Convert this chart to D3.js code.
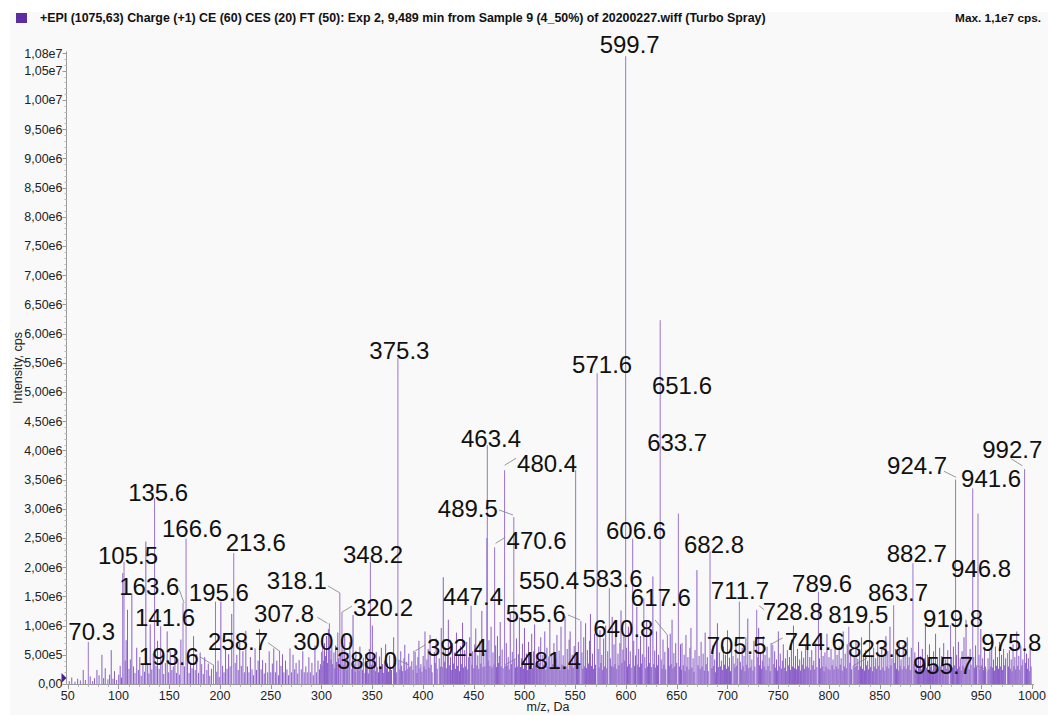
<!DOCTYPE html>
<html>
<head>
<meta charset="utf-8">
<script src="https://cdn.jsdelivr.net/npm/d3@7"></script>
<style>
  body { margin: 0; background: #ffffff; }
  svg { display: block; }
  text { font-family: "Liberation Sans", Arial, Helvetica, sans-serif; }
</style>
</head>
<body>
<svg id="chart" width="1048" height="715"></svg>
<script>
// ---- Spectrum header ----
const titleText = "+EPI (1075,63) Charge (+1) CE (60) CES (20) FT (50): Exp 2, 9,489 min from Sample 9 (4_50%) of 20200227.wiff (Turbo Spray)";
const maxText = "Max. 1,1e7 cps.";
const xAxisTitle = "m/z, Da";
const yAxisTitle = "Intensity, cps";

// ---- Axis ticks ----
const xTickValues = [50, 100, 150, 200, 250, 300, 350, 400, 450, 500, 550, 600, 650, 700, 750, 800, 850, 900, 950, 1000];
const yTickValues = [0, 5e5, 1e6, 1.5e6, 2e6, 2.5e6, 3e6, 3.5e6, 4e6, 4.5e6, 5e6, 5.5e6, 6e6, 6.5e6, 7e6, 7.5e6, 8e6, 8.5e6, 9e6, 9.5e6, 1e7, 1.05e7, 1.08e7];
const yTickLabels = ["0,00", "5,00e5", "1,00e6", "1,50e6", "2,00e6", "2,50e6", "3,00e6", "3,50e6", "4,00e6", "4,50e6", "5,00e6", "5,50e6", "6,00e6", "6,50e6", "7,00e6", "7,50e6", "8,00e6", "8,50e6", "9,00e6", "9,50e6", "1,00e7", "1,05e7", "1,08e7"];

// ---- Labelled peaks: m/z and intensity (cps) ----
const labelledMz = [599.7, 375.3, 571.6, 651.6, 633.7, 463.4, 480.4, 489.5, 470.6, 550.4,
  583.6, 606.6, 617.6, 640.8, 682.8, 711.7, 705.5, 728.8, 744.6, 789.6,
  819.5, 823.8, 863.7, 882.7, 919.8, 924.7, 941.6, 946.8, 955.7, 975.8,
  992.7, 555.6, 481.4, 447.4, 392.4, 388.0, 348.2, 320.2, 318.1, 307.8,
  300.0, 258.7, 213.6, 195.6, 193.6, 166.6, 163.6, 141.6, 135.6, 105.5, 70.3];
const labelledIntensity = [1.075e7, 5.58e6, 5.32e6, 2.92e6, 6.23e6, 4.09e6, 3.66e6, 2.86e6, 2.34e6, 3.66e6,
  1.64e6, 2.49e6, 1.47e6, 8.4e5, 2.27e6, 1.41e6, 4.8e5, 1.27e6, 6.7e5, 1.58e6,
  9.8e5, 3.1e5, 1.35e6, 2.07e6, 1.01e6, 3.50e6, 3.35e6, 2.92e6, 2.2e5, 5.3e5,
  3.68e6, 1.08e6, 3.1e5, 1.34e6, 5.5e5, 3.1e5, 2.09e6, 1.23e6, 1.56e6, 1.04e6,
  5.5e5, 5.7e5, 2.24e6, 1.41e6, 3.3e5, 2.49e6, 1.39e6, 9.9e5, 3.18e6, 2.09e6, 7.2e5];

// ---- Remaining peaks, [m/z, intensity in units of 1e5 cps] ----
const peaksLow = [[51.5,0.5],[54,1.1],[57.2,0.4],[59.8,0.9],[62.5,0.6],[65.3,2.4],[67.4,0.7],[72.2,1.3],[74.6,0.5],[76.4,1.0],[78.8,2.4],[80.9,1.5],[83.7,5.0],[85.4,1.0],[87.0,2.7],[89.6,0.8],[91.3,1.6],[92.9,5.8],[94.6,0.9],[96.1,2.2],[98.2,0.7],[100.3,1.6],[101.7,3.1],[103.0,1.1],[104.3,19.0],[106.6,4.0],[107.6,7.5],[108.9,12.7],[110.4,2.6],[111.7,4.2],[113.2,15.5],[114.8,3.0],[116.3,1.9],[118.0,6.2],[119.6,2.4],[121.0,4.6],[122.4,1.4],[124.1,3.3],[125.6,2.1],[127.0,24.4],[128.8,3.6],[130.0,1.8],[131.3,10.2],[132.8,2.5],[134.3,5.2],[137.0,3.1],[138.5,7.4],[140.1,2.6],[143.1,4.1],[144.6,1.7],[146.2,3.6],[148.0,9.0],[149.5,2.0],[151.0,5.6],[152.6,2.4],[154.0,3.0],[155.6,6.1],[157.1,1.9],[158.6,4.3],[160.0,1.6],[161.5,7.6],[165.0,3.0],[168.1,4.1],[169.6,1.9],[171.0,3.6],[172.5,2.7],[174.0,8.2],[175.6,2.4],[177.1,5.1],[178.9,1.9],[180.5,5.4],[182.0,3.4],[183.6,1.7],[185.0,4.6],[187.1,2.4],[188.5,3.5],[190.0,1.4],[191.6,2.6],[196.9,2.1],[198.1,4.0],[199.3,1.2],[200.9,14.1],[202.6,3.1],[204.0,2.0],[205.5,6.2],[207.0,2.6],[208.5,5.1],[210.0,3.0],[211.6,12.0],[215.0,3.6],[216.6,5.0],[218.0,2.4],[219.5,7.1],[221.0,3.1],[222.6,5.6],[224.0,2.0],[225.5,9.1],[227.1,3.0],[228.6,2.0],[230.0,4.6],[231.6,2.5],[233.0,1.5],[234.6,6.1],[236.0,2.4],[237.6,4.0],[239.0,9.4],[240.6,2.5],[242.0,4.1],[243.6,1.8],[245.0,3.6],[247.0,2.0],[248.5,5.6],[250.1,2.0],[251.6,3.5],[253.0,6.1],[254.6,2.0],[256.0,4.0],[257.6,1.5],[260.1,3.1],[261.6,5.1],[263.0,2.0],[264.6,4.0],[266.0,2.5],[267.6,1.5],[269.0,6.1],[270.6,2.0],[272.0,5.0],[273.6,2.5],[275.0,3.6],[276.6,1.8],[278.0,4.1],[280.1,2.5],[281.6,5.6],[283.0,2.0],[284.6,3.0],[286.0,2.0],[287.6,4.6],[289.0,2.0],[290.6,3.6],[292.0,1.5],[293.6,6.6],[295.0,2.0],[296.6,4.0],[298.1,2.5],[299.2,3.4]];

const peaksMid = [[300.5,3.0],[301.3,6.2],[302.2,4.0],[303.0,7.0],[303.9,4.8],[305.0,8.2],[305.9,3.6],[306.8,9.4],[308.5,5.8],[309.4,4.2],[310.2,7.6],[311.1,3.4],[312.3,5.4],[313.2,2.7],[314.0,6.6],[314.9,3.8],[316.1,8.8],[316.9,4.4],[319.0,5.0],[321.2,5.9],[322.0,3.2],[322.9,8.6],[324.1,3.9],[325.0,2.5],[325.9,5.3],[327.1,3.0],[328.0,7.2],[329.9,2.6],[330.5,4.6],[331.1,11.8],[332.2,3.5],[333.1,2.1],[333.9,5.7],[335.2,2.9],[336.1,4.1],[337.0,2.3],[337.9,6.4],[339.0,3.1],[340.4,2.4],[341.2,4.5],[342.8,1.9],[343.4,5.1],[344.3,2.8],[345.1,3.6],[346.2,1.8],[347.1,6.0],[349.2,3.3],[350.1,10.0],[351.0,2.5],[352.0,4.3],[353.1,2.2],[354.0,5.5],[355.0,2.9],[356.2,2.0],[357.1,4.7],[358.0,2.6],[359.0,6.2],[360.1,3.4],[361.0,1.9],[362.0,4.0],[363.2,6.8],[364.1,2.7],[365.0,3.5],[366.0,2.1],[367.1,4.9],[368.0,3.0],[369.0,2.4],[371.1,8.0],[372.0,2.8],[373.0,3.6],[374.1,2.0],[376.3,3.9],[377.2,2.5],[378.1,5.6],[379.0,3.1],[380.0,2.2],[381.2,4.4],[382.1,6.7],[383.0,2.3],[384.0,3.8],[385.1,2.6],[386.0,5.2],[387.0,2.9],[389.0,3.9],[390.2,2.4],[391.1,5.7],[393.2,3.2],[394.1,1.9],[395.0,4.6],[396.0,7.4],[397.1,2.7],[398.0,3.4],[399.0,2.1],[400.2,4.8],[401.1,3.0],[402.0,9.0],[403.0,2.5],[403.9,4.2],[405.1,6.0],[406.0,2.8],[407.0,8.4],[408.1,3.3],[409.0,2.0],[411.2,5.5],[412.1,3.6],[413.0,7.8],[414.0,2.6],[416.0,4.4],[417.1,3.0],[418.0,9.6],[419.0,2.9],[420.0,18.3],[421.1,3.8],[422.0,6.2],[423.0,2.7],[424.1,5.0],[425.0,11.0],[426.0,3.2],[427.1,4.6],[428.0,2.4],[429.1,7.0],[430.0,3.5],[431.0,5.4],[432.1,2.6],[433.0,8.8],[434.0,3.1],[435.1,4.9],[436.0,2.2],[437.0,6.5],[438.1,3.4],[439.0,10.5],[440.0,2.8],[441.1,5.8],[442.0,3.0],[443.0,7.2],[444.1,2.5],[445.0,4.6],[446.0,8.0],[448.2,3.3],[449.0,5.6],[450.1,2.7],[451.0,6.8],[452.0,9.5],[453.1,3.2],[454.0,4.9],[455.0,2.6],[456.1,7.4],[457.0,3.5],[458.0,12.5],[459.1,2.9],[460.0,5.2],[461.0,3.0],[462.1,6.0],[463.0,25.0],[464.1,4.0],[465.0,7.5],[466.0,3.1],[467.1,9.8],[468.0,2.8],[469.0,5.4],[470.0,3.3],[471.6,6.6],[472.5,2.9],[473.4,8.2],[474.3,3.6],[475.2,4.8],[476.1,10.6],[477.0,3.0],[478.0,5.9],[479.0,2.7],[482.1,7.0],[483.0,3.2],[484.0,4.6],[485.0,2.5],[486.0,12.0],[487.1,3.4],[488.0,5.5],[490.4,4.2],[491.2,2.8],[492.1,7.8],[493.0,3.0],[494.0,5.1],[495.0,11.4],[496.1,2.9],[497.0,4.4],[498.0,6.9],[499.1,2.6],[500.0,9.6],[501.0,3.5],[502.0,5.2],[503.1,2.4],[504.0,7.2],[505.0,3.1],[506.0,4.8],[507.1,8.6],[508.0,2.7],[509.0,5.6],[510.0,10.2],[511.1,3.2],[512.0,4.5],[513.0,2.6],[514.1,6.4],[515.0,3.6],[516.0,8.0],[517.0,2.9],[518.1,5.0],[519.0,3.3],[520.0,9.0],[521.0,2.5],[522.1,6.2],[523.0,3.0],[524.0,4.7],[525.0,10.8],[526.1,2.8],[527.0,5.3],[528.0,3.4],[529.0,7.0],[530.1,2.6],[531.0,4.4],[532.0,8.4],[533.0,3.1],[534.1,5.7],[535.0,2.4],[536.0,9.8],[537.0,3.3],[538.1,4.9],[539.0,2.7],[540.0,11.6],[541.0,3.0],[542.1,6.0],[543.0,2.5],[544.0,7.6],[545.0,9.0],[546.1,3.2],[547.0,5.0],[548.0,2.8],[549.0,6.5],[551.3,4.1],[552.2,2.9],[553.1,7.2],[554.0,3.4],[556.6,5.4],[557.5,2.6],[558.4,8.0],[559.3,3.0],[560.2,10.4],[561.1,2.7],[562.0,5.8],[563.0,3.5],[564.1,7.4],[565.0,12.0],[566.0,3.1],[567.0,5.2],[568.1,2.6],[569.0,8.6],[570.0,3.3],[572.6,6.0],[573.5,2.8],[574.4,9.2],[575.3,3.6],[576.2,5.0],[577.1,2.4],[578.0,7.8],[579.0,3.0],[580.0,10.0],[581.1,2.7],[582.0,5.6],[584.6,4.4],[585.5,3.1],[586.4,11.5],[587.3,2.9],[588.2,6.8],[589.1,3.4],[590.0,9.4],[591.0,2.6],[592.1,5.2],[593.0,3.2],[594.0,7.0],[595.1,12.6],[596.0,3.6],[597.0,5.9],[598.0,8.4],[598.8,4.0],[600.6,6.2],[601.5,3.0],[602.4,9.8],[603.3,3.4],[604.2,5.6],[605.1,2.8],[607.6,7.4],[608.5,3.1],[609.4,4.9],[610.7,13.2],[611.6,3.3],[612.5,6.0],[613.4,2.9],[614.3,8.2],[615.2,3.5],[616.1,5.1],[618.6,4.6],[619.5,2.7],[620.4,10.8],[621.3,3.0],[622.2,6.4],[623.1,3.6],[624.0,8.8],[625.0,2.9],[626.5,18.4],[627.4,3.4],[628.3,5.7],[629.2,2.8],[630.1,9.0],[631.0,3.2],[632.0,5.0],[634.7,4.2],[635.6,2.6],[636.5,7.6],[637.4,3.3],[638.3,5.5],[639.2,2.5],[641.8,6.2],[642.7,3.1],[643.6,8.6],[644.5,3.4],[645.4,11.0],[646.3,2.7],[647.2,5.3],[648.1,3.0],[649.0,7.0],[650.0,3.6]];

const peaksHigh = [[652.8,3.0],[653.7,6.8],[654.6,2.4],[655.2,7.0],[656.4,3.2],[657.3,5.0],[658.2,2.2],[659.1,8.4],[660.0,3.0],[661.0,4.6],[662.1,2.5],[663.0,6.2],[664.0,9.6],[665.0,2.8],[666.1,4.4],[667.0,2.1],[668.0,5.8],[669.9,19.5],[671.0,3.2],[672.0,4.8],[673.1,2.6],[674.0,7.2],[675.0,3.0],[676.0,5.2],[677.1,2.3],[678.0,8.8],[679.0,3.4],[680.1,4.6],[681.0,2.2],[683.8,5.0],[684.7,2.7],[685.6,6.6],[686.5,3.1],[687.4,4.2],[688.3,2.0],[689.2,7.8],[690.1,10.4],[691.0,2.9],[692.0,5.4],[693.1,3.0],[694.0,4.0],[695.0,2.4],[696.0,6.4],[697.1,3.3],[698.0,5.0],[699.0,2.6],[700.0,9.2],[701.1,3.0],[702.0,4.5],[703.0,2.2],[704.1,6.0],[706.5,3.5],[707.4,2.8],[708.3,7.0],[709.2,3.1],[710.1,4.4],[712.7,3.8],[713.6,2.5],[714.5,6.2],[715.4,3.0],[716.3,4.8],[717.2,2.2],[718.1,8.0],[719.0,3.3],[720.0,11.2],[721.0,2.7],[722.1,5.0],[723.0,2.9],[724.0,4.2],[725.1,2.3],[726.0,7.4],[727.0,3.0],[729.8,4.6],[730.7,9.6],[731.6,3.2],[732.5,5.4],[733.4,2.6],[734.3,4.0],[735.2,8.2],[736.1,3.0],[737.0,5.0],[738.0,2.4],[739.0,6.4],[740.0,3.1],[741.1,4.5],[742.0,2.2],[743.0,7.0],[745.6,3.4],[746.5,5.6],[747.4,2.8],[748.3,4.2],[749.2,2.3],[750.1,9.0],[751.0,3.0],[752.0,5.2],[753.1,2.6],[754.0,4.0],[755.0,6.8],[756.0,2.8],[757.1,4.4],[758.0,2.2],[759.0,5.8],[760.0,3.2],[761.1,4.6],[762.0,2.4],[763.0,7.6],[764.1,3.0],[765.0,10.0],[766.0,2.7],[767.0,4.8],[768.1,2.5],[769.0,6.0],[770.0,3.1],[771.1,4.2],[772.0,2.3],[773.0,5.6],[774.1,3.3],[775.0,4.5],[776.0,2.6],[777.0,6.6],[778.1,3.0],[779.0,8.4],[780.0,2.8],[781.1,4.6],[782.0,2.4],[783.0,5.8],[784.1,3.2],[785.0,4.0],[786.0,2.5],[787.0,7.0],[788.1,2.9],[790.6,4.4],[791.5,2.7],[792.4,6.2],[793.3,3.0],[794.2,4.8],[795.1,2.2],[796.0,5.4],[797.0,3.0],[798.0,8.6],[799.1,2.6],[800.0,4.6],[801.0,2.4],[802.0,6.0],[803.1,3.2],[804.0,4.2],[805.0,2.5],[806.0,7.6],[807.1,3.0],[808.0,5.0],[809.0,2.6],[810.0,6.4],[811.1,3.3],[812.0,4.4],[813.0,2.3],[814.0,9.0],[815.1,3.0],[816.0,5.2],[817.0,2.7],[818.0,6.8],[820.5,3.6],[821.4,5.4],[822.3,2.5],[824.8,4.8],[825.7,2.9],[826.6,7.2],[827.5,3.1],[828.4,4.3],[829.3,2.4],[830.2,6.0],[831.1,3.0],[832.0,8.0],[833.0,2.6],[834.1,4.6],[835.0,2.3],[836.0,5.8],[837.0,3.2],[838.1,4.0],[839.0,2.5],[840.0,10.6],[841.0,2.9],[842.1,4.8],[843.0,2.2],[844.0,6.2],[845.1,3.0],[846.0,4.4],[847.0,2.6],[848.0,7.0],[849.1,3.1],[850.0,5.0],[851.0,2.4],[852.0,6.4],[853.1,2.8],[854.0,4.6],[855.0,2.3],[856.1,8.2],[857.0,3.0],[858.0,5.6],[859.0,2.7],[860.1,9.8],[861.0,3.2],[862.0,4.4],[864.7,3.6],[865.6,6.0],[866.5,2.6],[867.4,4.8],[868.3,2.3],[869.2,7.4],[870.1,3.1],[871.0,4.2],[872.0,2.5],[873.1,6.6],[874.0,3.0],[875.0,5.2],[876.0,2.6],[877.1,8.0],[878.0,3.2],[879.0,4.6],[880.0,2.4],[881.1,6.2],[883.7,3.4],[884.6,5.4],[885.5,2.6],[886.4,4.0],[887.3,2.2],[888.2,7.2],[889.1,3.0],[890.0,4.8],[891.0,2.5],[892.0,6.0],[893.1,3.3],[894.0,4.4],[895.0,10.2],[896.0,2.8],[897.1,5.0],[898.0,2.4],[899.0,6.8],[900.0,3.0],[901.1,4.5],[902.0,2.3],[903.0,5.6],[904.1,3.2],[905.0,8.6],[906.0,2.7],[907.0,4.4],[908.1,2.5],[909.0,6.2],[910.0,3.0],[911.1,4.8],[912.0,2.4],[913.0,7.0],[914.1,3.1],[915.0,4.2],[916.0,2.6],[917.0,5.8],[918.1,3.0],[920.8,4.6],[921.7,2.8],[922.6,6.4],[923.5,3.2],[925.7,5.0],[926.6,2.6],[927.5,7.2],[928.4,3.0],[929.3,4.4],[930.2,2.3],[931.1,5.6],[932.0,3.1],[933.0,8.0],[934.1,2.7],[935.0,11.0],[936.0,3.0],[937.0,4.8],[938.1,2.5],[939.0,6.0],[940.0,3.3],[942.6,4.6],[943.5,2.8],[944.4,6.6],[945.3,3.0],[947.8,5.0],[948.7,2.6],[949.6,9.4],[950.5,3.2],[951.4,4.4],[952.3,2.4],[953.2,6.2],[954.1,3.0],[956.7,4.4],[957.6,2.5],[958.5,5.6],[959.4,3.0],[960.3,8.6],[961.2,2.8],[962.1,4.2],[963.0,2.3],[964.0,6.4],[965.1,3.1],[966.0,4.6],[967.0,2.6],[968.0,7.2],[969.1,3.0],[970.0,5.0],[971.0,2.4],[972.0,6.0],[973.1,3.2],[974.0,4.4],[976.8,3.0],[977.7,5.8],[978.6,2.6],[979.5,4.2],[980.4,2.2],[981.3,6.8],[982.2,3.0],[983.1,4.6],[984.0,2.5],[985.0,9.0],[986.0,3.1],[987.0,4.8],[988.1,2.4],[989.0,6.4],[990.0,3.2],[991.0,4.2],[993.7,3.6],[994.6,5.2],[995.5,2.6],[996.4,4.4],[997.3,2.2],[998.2,6.0],[999.1,3.0]];

// ---- Label placement (pixel offset of the label centre from the peak top) ----
const labelOffset = {
  "599.7":[4,-12], "375.3":[1.5,-8], "571.6":[5,-9], "651.6":[3.6,-128], "633.7":[17,122],
  "463.4":[3.7,-7], "480.4":[42.5,-7], "489.5":[-46,-9], "470.6":[42,-7], "550.4":[-26.6,110],
  "583.6":[3.2,-10], "606.6":[3.3,-8.3], "617.6":[17,-1], "640.8":[-44,-7], "682.8":[4,-7],
  "711.7":[0.6,-11.7], "705.5":[3.6,-11], "728.8":[36,1.7], "744.6":[42,-3.3], "789.6":[3.7,-8.7],
  "819.5":[9.5,-12], "823.8":[25,-18], "863.7":[4.4,-13.3], "882.7":[3.8,-10], "919.8":[2.5,-7],
  "924.7":[-38.5,-14.3], "941.6":[18.4,-10], "946.8":[3.1,55], "955.7":[-44,-6], "975.8":[3.8,-11],
  "992.7":[-12.3,-19.3], "555.6":[-45.2,-8], "481.4":[45.5,-6], "447.4":[1.9,-9], "392.4":[41.7,-5],
  "388.0":[-43.8,-6], "348.2":[2.6,-7.7], "320.2":[41,-5], "318.1":[-43,-13], "307.8":[-45.3,-10],
  "300.0":[1.8,-10.3], "258.7":[-41.5,-9], "213.6":[22,-11.3], "195.6":[3.4,-9.4], "193.6":[-44.6,-8],
  "166.6":[6,-10.3], "163.6":[-33.7,-16], "141.6":[4.3,-9], "135.6":[3.6,-6.3], "105.5":[4,-6.7], "70.3":[3.4,-10.3]
};
// leader lines, [x1, y1, x2, y2] relative to the peak top
const leaderLines = {
  "480.4":[0,-5,11.5,-12], "489.5":[-14.8,-7,-0.8,-2], "470.6":[1,-4,10.5,-10], "640.8":[-12.4,-15,0,0],
  "728.8":[2.5,-4,7.5,0], "744.6":[-1,-1,10,-7], "823.8":[0,0,14,-8], "924.7":[-11.5,-8.3,0.5,-2.3],
  "955.7":[-12,-6,0,-1], "992.7":[-13.3,-10.3,-2.3,-3.3], "555.6":[-13,-6,-1,-1], "481.4":[-0.5,-1,11.5,-8],
  "392.4":[0,-1,10,-7], "388.0":[-13,-6,-2,-1], "320.2":[0,0,10,-6], "318.1":[-12,-7,0,0],
  "307.8":[-12,-6,-2,0], "258.7":[-11.5,-8,-0.5,0], "193.6":[-13.6,-8,-0.6,0], "163.6":[-3.7,-13,1,0]
};

const svg = d3.select("#chart");
const W = 1048, H = 715;

// page and panel background
svg.append("rect").attr("width", W).attr("height", H).attr("fill", "#ffffff");
svg.append("rect").attr("x", 10).attr("y", 12).attr("width", W - 10).attr("height", H - 12).attr("fill", "#f9f9f9");

// scales
const x = d3.scaleLinear().domain([50, 1000]).range([67.7, 1032]);
const y = d3.scaleLinear().domain([0, 1.08e7]).range([684, 684 - 1.08e7 * 58.4e-6]);

// header
svg.append("rect").attr("x", 16).attr("y", 13).attr("width", 11).attr("height", 10).attr("fill", "#5c2ca2");
svg.append("text").attr("x", 40).attr("y", 22).attr("font-size", 12.4).attr("font-weight", "bold").attr("fill", "#111").text(titleText);
svg.append("text").attr("x", 1041).attr("y", 22).attr("text-anchor", "end").attr("font-size", 11.8).attr("font-weight", "bold").attr("fill", "#111").text(maxText);

// all peaks as sticks
const others = peaksLow.concat(peaksMid, peaksHigh).map(d => ({ mz: d[0], v: d[1] * 1e5 }));
const labelled = labelledMz.map((m, i) => ({ mz: m, v: labelledIntensity[i], text: m.toFixed(1) }));

const gPeaks = svg.append("g");
gPeaks.selectAll("line.o").data(others).join("line")
  .attr("class", "o")
  .attr("x1", d => x(d.mz)).attr("x2", d => x(d.mz))
  .attr("y1", y(0)).attr("y2", d => y(d.v))
  .attr("stroke", "#8a5dc8").attr("stroke-width", 1);
gPeaks.selectAll("line.l").data(labelled).join("line")
  .attr("class", "l")
  .attr("x1", d => x(d.mz)).attr("x2", d => x(d.mz))
  .attr("y1", y(0)).attr("y2", d => y(d.v))
  .attr("stroke", "#9a74d2").attr("stroke-width", 1);

// axes
const axisColor = "#9a9a9a";
const gAx = svg.append("g");
const x0 = 66.5;
gAx.append("line").attr("x1", x0).attr("x2", x0).attr("y1", y(0) + 0.5).attr("y2", y(1.08e7) - 2).attr("stroke", axisColor);
gAx.append("line").attr("x1", x0).attr("x2", x(1000) + 2).attr("y1", y(0) + 0.5).attr("y2", y(0) + 0.5).attr("stroke", axisColor);

// y minor ticks every 1e5
const yMinor = d3.range(0, 108).map(i => i * 1e5);
gAx.selectAll("line.ym").data(yMinor).join("line").attr("class", "ym")
  .attr("x1", x0 - 2).attr("x2", x0).attr("y1", d => Math.round(y(d)) + 0.5).attr("y2", d => Math.round(y(d)) + 0.5)
  .attr("stroke", "#b8b8b8");
gAx.selectAll("line.yM").data(yTickValues).join("line").attr("class", "yM")
  .attr("x1", x0 - 4).attr("x2", x0).attr("y1", d => Math.round(y(d)) + 0.5).attr("y2", d => Math.round(y(d)) + 0.5)
  .attr("stroke", axisColor);
gAx.selectAll("text.yl").data(yTickValues).join("text").attr("class", "yl")
  .attr("x", x0 - 4).attr("y", d => y(d)).attr("dy", "0.35em")
  .attr("text-anchor", "end").attr("font-size", 12.5).attr("fill", "#222")
  .text((d, i) => yTickLabels[i]);

// x minor ticks every 10
const xMinor = d3.range(50, 1001, 10);
gAx.selectAll("line.xm").data(xMinor).join("line").attr("class", "xm")
  .attr("x1", d => Math.round(x(d)) + 0.5).attr("x2", d => Math.round(x(d)) + 0.5)
  .attr("y1", y(0) + 0.5).attr("y2", y(0) + 3).attr("stroke", "#b8b8b8");
gAx.selectAll("line.xM").data(xTickValues).join("line").attr("class", "xM")
  .attr("x1", d => Math.round(x(d)) + 0.5).attr("x2", d => Math.round(x(d)) + 0.5)
  .attr("y1", y(0) + 0.5).attr("y2", y(0) + 5).attr("stroke", axisColor);
gAx.selectAll("text.xl").data(xTickValues).join("text").attr("class", "xl")
  .attr("x", d => x(d)).attr("y", 700)
  .attr("text-anchor", "middle").attr("font-size", 12.5).attr("fill", "#222")
  .text(d => d);

// zero marker
svg.append("path").attr("d", `M${x0 - 5},${y(0) - 11} L${x0},${y(0) - 6} L${x0 - 5},${y(0) - 1} Z`).attr("fill", "#4b1f90");

// axis titles
svg.append("text").attr("x", 548).attr("y", 711).attr("text-anchor", "middle").attr("font-size", 12.5).attr("fill", "#222").text(xAxisTitle);
svg.append("text").attr("transform", "translate(22,368) rotate(-90)").attr("text-anchor", "middle").attr("font-size", 12.5).attr("fill", "#222").text(yAxisTitle);

// leader lines and peak labels
const gLab = svg.append("g");
labelled.forEach(d => {
  const px = x(d.mz), py = y(d.v);
  const ld = leaderLines[d.text];
  if (ld) {
    gLab.append("line").attr("x1", px + ld[0]).attr("y1", py + ld[1]).attr("x2", px + ld[2]).attr("y2", py + ld[3])
      .attr("stroke", "#808080").attr("stroke-width", 0.8);
  }
  const off = labelOffset[d.text];
  gLab.append("text").attr("x", px + off[0]).attr("y", py + off[1]).attr("dy", "0.36em")
    .attr("text-anchor", "middle").attr("font-size", 24).attr("fill", "#111").text(d.text);
});
</script>
</body>
</html>
